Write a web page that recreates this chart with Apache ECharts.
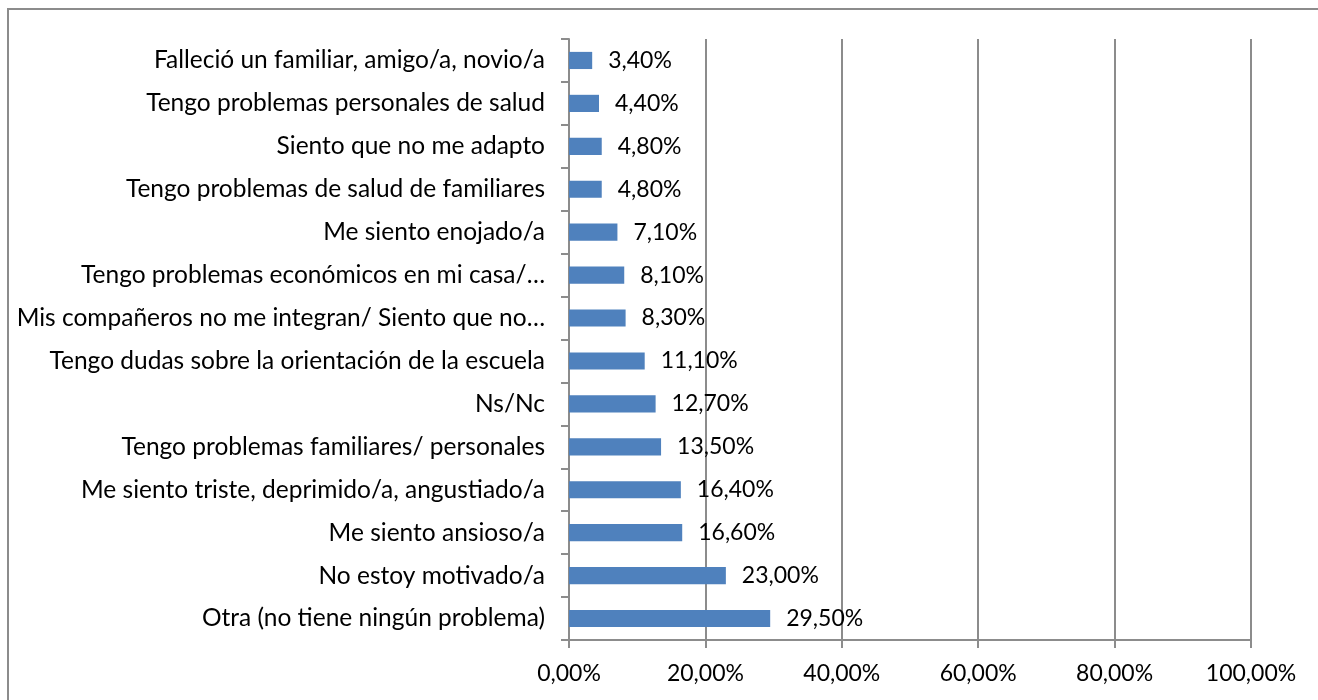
<!DOCTYPE html>
<html>
<head>
<meta charset="utf-8">
<script src="https://cdn.jsdelivr.net/npm/echarts@6/dist/echarts.min.js"></script>
<style>
  html, body { margin: 0; padding: 0; background: #fff; }
  #chart { width: 1318px; height: 700px; }
</style>
</head>
<body>
<div id="chart"></div>
<script>
  // categories listed bottom to top
  var categories = [
    'Otra (no tiene ningún problema)',
    'No estoy motivado/a',
    'Me siento ansioso/a',
    'Me siento triste, deprimido/a, angustiado/a',
    'Tengo problemas familiares/ personales',
    'Ns/Nc',
    'Tengo dudas sobre la orientación de la escuela',
    'Mis compañeros no me integran/ Siento que no…',
    'Tengo problemas económicos en mi casa/…',
    'Me siento enojado/a',
    'Tengo problemas de salud de familiares',
    'Siento que no me adapto',
    'Tengo problemas personales de salud',
    'Falleció un familiar, amigo/a, novio/a'
  ];
  var percentages = [29.5, 23.0, 16.6, 16.4, 13.5, 12.7, 11.1, 8.3, 8.1, 7.1, 4.8, 4.8, 4.4, 3.4];
  var xTicks = [0, 20, 40, 60, 80, 100];

  var fontFam = 'Lato, "Open Sans", sans-serif';
  var gray = '#8c8c8c';

  function pct(v) {
    return v.toFixed(2).replace('.', ',') + '%';
  }

  var chart = echarts.init(document.getElementById('chart'));
  chart.setOption({
    backgroundColor: '#fff',
    animation: false,
    graphic: [{
      type: 'rect',
      shape: { x: 8, y: 9, width: 1400, height: 800 },
      style: { fill: 'none', stroke: gray, lineWidth: 2 }
    }],
    grid: {
      left: 569,
      right: 67,
      top: 39,
      bottom: 60
    },
    xAxis: {
      type: 'value',
      min: xTicks[0],
      max: xTicks[xTicks.length - 1],
      interval: 20,
      axisLine: { show: true, lineStyle: { color: gray, width: 2 } },
      axisTick: { show: true, length: 8, lineStyle: { color: gray, width: 2 } },
      axisLabel: {
        margin: 22,
        color: '#000',
        fontSize: 23,
        fontFamily: fontFam,
        formatter: function (v) { return pct(v); }
      },
      splitLine: { show: true, lineStyle: { color: gray, width: 2 } }
    },
    yAxis: {
      type: 'category',
      data: categories,
      axisLine: { show: true, lineStyle: { color: gray, width: 2 } },
      axisTick: { show: true, length: 8, lineStyle: { color: gray, width: 2 } },
      axisLabel: {
        margin: 24,
        color: '#000',
        fontSize: 24.5,
        fontFamily: fontFam
      },
      splitLine: { show: false }
    },
    series: [{
      type: 'bar',
      data: percentages,
      barWidth: '40%',
      itemStyle: { color: '#4f81bd' },
      label: {
        show: true,
        position: 'right',
        distance: 16,
        color: '#000',
        fontSize: 23,
        fontFamily: fontFam,
        formatter: function (p) { return pct(p.value); }
      }
    }]
  });
</script>
</body>
</html>
